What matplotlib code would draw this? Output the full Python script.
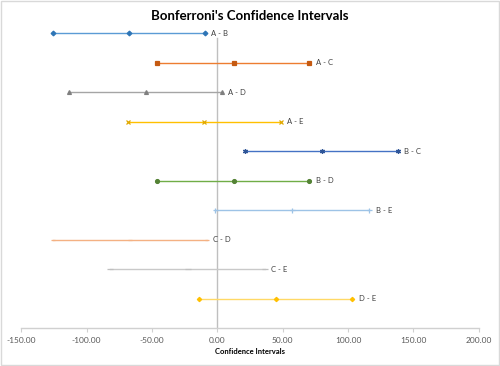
import matplotlib
matplotlib.use("Agg")
import matplotlib.pyplot as plt
from matplotlib.patches import Rectangle

# Bonferroni pairwise comparisons: lower bound, difference, upper bound
pairs = ["A - B", "A - C", "A - D", "A - E", "B - C",
         "B - D", "B - E", "C - D", "C - E", "D - E"]
lower = [-125.7, -45.9, -113.5, -68.6, 21.2, -45.9, -1.8, -126.0, -82.1, -13.8]
diff = [-67.3, 12.8, -54.8, -9.9, 79.9, 12.5, 57.4, -67.0, -22.2, 44.9]
upper = [-9.6, 70.4, 3.4, 48.5, 138.0, 70.4, 116.3, -8.1, 36.5, 103.3]
rows = [10, 9, 8, 7, 6, 5, 4, 3, 2, 1]

colors = ["#5B9BD5", "#ED7D31", "#A5A5A5", "#FFC000", "#4472C4",
          "#70AD47", "#9DC3E6", "#F4B183", "#C9C9C9", "#FFD966"]
edges = ["#2E75B6", "#C55A11", "#7F7F7F", "#E0A800", "#2F5597",
         "#548235", "#9DC3E6", "#F4B183", "#BFBFBF", "#FFC000"]
markers = ["D", "s", "^", "x", (6, 2, 0), "o", "+", "_", "_", "D"]
msizes = [2.4, 2.8, 2.8, 3.2, 3.6, 2.8, 3.6, 2.5, 4.0, 2.2]

xticks = [-150, -100, -50, 0, 50, 100, 150, 200]

plt.rcParams['font.family'] = ['Lato', 'DejaVu Sans']

fig = plt.figure(figsize=(5.0, 3.66), dpi=100)
ax = fig.add_axes([0.0426, 0.1033, 0.9148, 0.83])

for i in range(len(pairs)):
    xs = [lower[i], diff[i], upper[i]]
    ys = [rows[i]] * 3
    ax.plot(xs, ys, color=colors[i], lw=1.0, marker=markers[i],
            markersize=msizes[i], markeredgewidth=0.9,
            markerfacecolor=edges[i], markeredgecolor=edges[i], zorder=3)
    ax.annotate(pairs[i], (upper[i], rows[i]), xytext=(4.5, 0),
                textcoords="offset points", va="center", ha="left",
                fontsize=5.5, color="#404040")

ax.set_xlim(-150, 200)
ax.set_ylim(0, 10.3)
ax.plot([0, 0], [0, 9.84], color="#BFBFBF", lw=1.0, zorder=1)

for s in ["top", "right", "left"]:
    ax.spines[s].set_visible(False)
ax.spines["bottom"].set_color("#D0D0D0")
ax.spines["bottom"].set_linewidth(1.0)
ax.set_yticks([])
ax.set_xticks(xticks)
ax.set_xticklabels([f"{v:.2f}" for v in xticks])
ax.tick_params(axis="x", length=3, width=0.8, color="#D0D0D0",
               labelsize=6, labelcolor="#595959", pad=3)

ax.set_xlabel("Confidence Intervals", fontsize=5.5, fontweight="bold",
              color="#000000", labelpad=3)
fig.text(0.5, 0.955, "Bonferroni's Confidence Intervals", ha="center",
         va="center", fontsize=9.5, fontweight="bold")

fig.patches.append(Rectangle((0.002, 0.003), 0.996, 0.994,
                             transform=fig.transFigure, fill=False,
                             edgecolor="#D9D9D9", lw=1.0))

fig.savefig("out.png", dpi=100)
